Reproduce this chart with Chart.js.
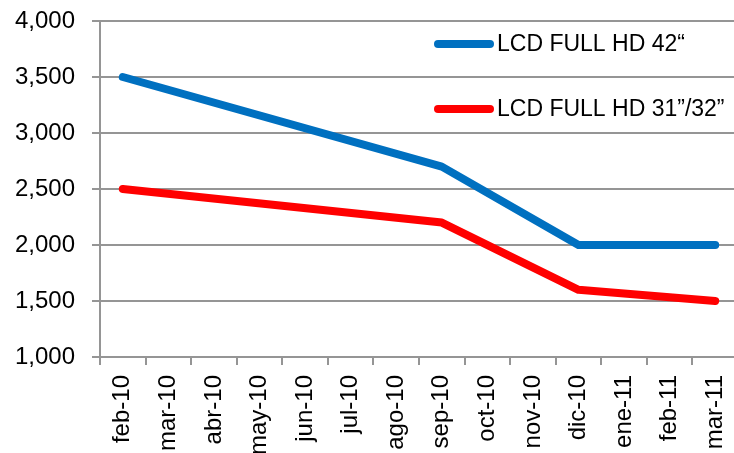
<!DOCTYPE html>
<html>
<head>
<meta charset="utf-8">
<script src="https://cdn.jsdelivr.net/npm/chart.js@4.4.0/dist/chart.umd.min.js"></script>
<style>
  html, body { margin: 0; padding: 0; background: #fff; overflow: hidden; }
  #wrap { width: 740px; height: 453px; }
</style>
</head>
<body>
<div id="wrap"><canvas id="chart"></canvas></div>
<script>
const months = ["feb-10", "mar-10", "abr-10", "may-10", "jun-10", "jul-10", "ago-10",
                "sep-10", "oct-10", "nov-10", "dic-10", "ene-11", "feb-11", "mar-11"];
// only the corner points of each line are read; gaps are spanned with straight lines
const lcd42 = [3500, null, null, null, null, null, null, 2700, null, null, 2000, null, null, 2000];
const lcd32 = [2500, null, null, null, null, null, null, 2200, null, null, 1600, null, null, 1500];
const seriesNames = ["LCD FULL HD 42\u201C", "LCD FULL HD 31\u201D/32\u201D"];
const yMin = 1000, yMax = 4000, yStep = 500;

const FONT = "'Liberation Sans', Arial, sans-serif";
const GRID = "#959595";

const legendInside = {
  id: "legendInside",
  afterDatasetsDraw(chart) {
    const ctx = chart.ctx;
    const rows = [44, 109];
    ctx.save();
    chart.data.datasets.forEach((ds, i) => {
      const y = rows[i];
      ctx.strokeStyle = ds.borderColor;
      ctx.lineWidth = 8;
      ctx.lineCap = "round";
      ctx.beginPath();
      ctx.moveTo(438, y);
      ctx.lineTo(490, y);
      ctx.stroke();
      ctx.fillStyle = "#000";
      ctx.font = "23px " + FONT;
      ctx.textBaseline = "middle";
      ctx.textAlign = "left";
      ctx.fillText(ds.label, 497, y + 1);
    });
    ctx.restore();
  }
};

new Chart(document.getElementById("chart"), {
  type: "line",
  data: {
    labels: months,
    datasets: [
      { label: seriesNames[0], data: lcd42, borderColor: "#0070C0" },
      { label: seriesNames[1], data: lcd32, borderColor: "#FF0000" }
    ]
  },
  options: {
    responsive: true,
    maintainAspectRatio: false,
    animation: false,
    spanGaps: true,
    layout: { padding: { top: 21, right: 2, left: 0, bottom: 0 } },
    elements: {
      line: { borderWidth: 8, borderCapStyle: "round", borderJoinStyle: "round", tension: 0 },
      point: { radius: 0, hoverRadius: 0 }
    },
    plugins: { legend: { display: false }, tooltip: { enabled: false } },
    scales: {
      x: {
        offset: true,
        grid: { offset: true, drawOnChartArea: false, drawTicks: true, tickLength: 8, color: GRID, lineWidth: 2 },
        border: { color: GRID, width: 2 },
        ticks: { minRotation: 90, maxRotation: 90, autoSkip: false, padding: 10, color: "#000",
                 font: { family: FONT, size: 24 } },
        afterFit(scale) {
          scale.height = 96;
          scale.paddingLeft = 0;
          scale.paddingRight = 0;
        }
      },
      y: {
        min: yMin,
        max: yMax,
        grid: { color: GRID, lineWidth: 2, tickLength: 8 },
        border: { color: GRID, width: 2 },
        ticks: {
          stepSize: yStep,
          padding: 17,
          color: "#000",
          font: { family: FONT, size: 24 },
          callback: v => v.toLocaleString("en-US")
        },
        afterFit(scale) {
          scale.width = 100;
          scale.paddingTop = 0;
          scale.paddingBottom = 0;
        }
      }
    }
  },
  plugins: [legendInside]
});
</script>
</body>
</html>
